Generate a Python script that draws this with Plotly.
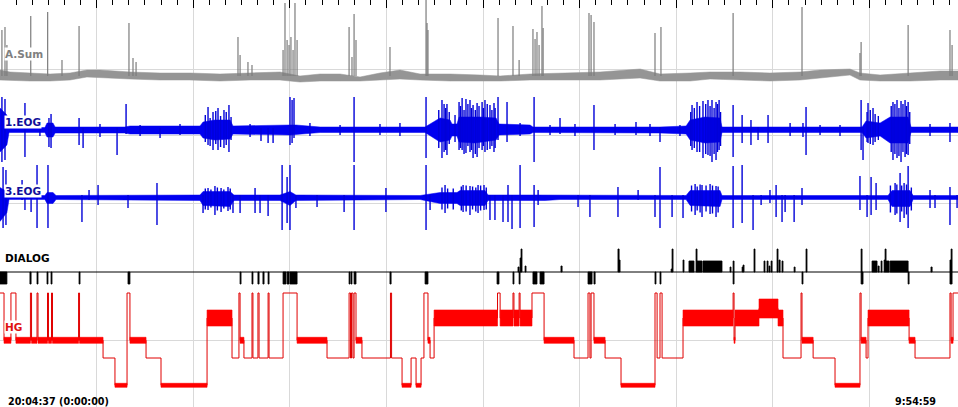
import plotly.graph_objects as go

# ---------------- data (time in minutes from 20:04:37) ----------------
TOTAL_MIN = 594.98  # 9:54:59

# A.Sum: background band envelope (upper / lower amplitude) and spikes
asum_t = [0.0, 6.2, 18.6, 31.1, 43.5, 54.0, 62.1, 80.7, 99.4, 118.0, 136.6, 155.3, 173.9, 186.3,
          198.8, 211.2, 223.6, 236.0, 248.4, 260.9, 279.5, 298.1, 310.6, 329.2, 347.8, 372.7, 397.5,
          409.9, 428.6, 441.0, 459.6, 478.2, 496.9, 509.3, 527.9, 534.1, 546.6, 565.2, 583.8, 595.0]
asum_hi = [6, 4, 3, 2, 3, 6, 6, 4, 3, 3, 2, 3, 4, 0, 2, 2, -1, 3, 6, 2,
           2, 1, 0, 2, 3, 4, 7, 2, 3, 4, 4, 3, 4, 6, 7, 3, 1, 3, 5, 5]
asum_lo = [-4, -4, -5, -5, -4, -1, -2, -3, -4, -4, -5, -4, -4, -6, -5, -5, -5, -4, -3, -4,
           -5, -5, -5, -4, -4, -4, -2, -5, -5, -3, -4, -5, -4, -2, 1, -4, -5, -5, -4, -4]
asum_spike_t = [1.2, 3.1, 4.3, 19.1, 29.6, 38.5, 49.1, 80.1, 82.6, 84.5,
                147.8, 149.1, 154.0, 156.5, 175.8, 177.0, 178.3, 179.5, 180.7, 182.0,
                183.2, 184.5, 216.8, 218.6, 219.9, 221.1, 242.2, 264.6, 265.2, 265.8,
                309.3, 318.6, 322.4, 331.0, 332.3, 333.5, 334.8, 336.6, 337.3, 365.8,
                367.1, 368.9, 406.8, 410.5, 455.3, 498.1, 534.1, 534.8, 564.0, 590.0, 591.3]
asum_spike_amp = [46, 49, 31, 60, 64, 16, 50, 53, 18, 14,
                  39, 21, 14, 11, 26, 73, 36, 31, 39, 26,
                  73, 36, 49, 19, 62, 36, 29, 76, 53, 46,
                  58, 50, 16, 47, 37, 44, 31, 70, 48, 63,
                  61, 54, 43, 49, 63, 69, 23, 34, 51, 46, 31]

# 1.EOG: envelope and spikes (time, up, down)
eog1_t = [0.0, 4.3, 5.6, 27.9, 29.2, 32.9, 34.2, 77.6, 80.7, 124.2,
          126.1, 133.5, 142.9, 144.7, 180.1, 183.8, 198.8, 264.0, 273.3, 279.5,
          280.7, 283.8, 285.1, 295.0, 298.1, 308.1, 309.9, 329.2, 331.0, 366.4,
          372.7, 409.9, 426.1, 428.6, 437.9, 447.2, 448.4, 535.4, 537.9, 546.6,
          552.8, 564.0, 565.8, 595.0]
eog1_hi = [22, 15, 2.5, 2.5, 7, 7, 3, 3, 4, 4,
           8, 10, 10, 4, 5, 5, 3, 3, 12, 10,
           6, 6, 13, 13, 13, 12, 6, 5, 3, 3,
           3, 3, 4, 10, 13, 12, 3, 3, 9, 7,
           13, 13, 3, 3]
eog1_lo = [-22, -15, -2.5, -2.5, -7, -7, -3, -3, -4, -4,
           -8, -10, -9, -4, -5, -4, -2.5, -2.5, -12, -10,
           -6, -6, -12, -13, -12, -10, -5, -4, -2.5, -2.5,
           -3, -3, -4, -10, -13, -12, -2.5, -2.5, -8, -6,
           -13, -13, -2.5, -2.5]
eog1_spikes = [
    (1.2, 33, -32), (3.1, 31, -30), (15.5, 27, -27), (24.8, 7, -6), (30.4, 12, -17), (31.7, 16, -18),
    (49.1, 12, -15), (51.6, 2, -18), (62.1, 6, -7), (72.7, 2, -25), (78.3, 26, -4), (87.0, 5, -6),
    (99.4, 2, -8), (111.8, 6, -5), (129.2, 23, -15), (132.3, 18, -20), (135.4, 22, -20), (139.1, 20, -18),
    (142.2, 25, -22), (155.3, 6, -7), (162.1, 2, -11), (166.5, 2, -13), (169.6, 2, -13), (180.1, 33, -15),
    (181.4, 30, -13), (182.6, 32, -8), (192.5, 7, -6), (211.2, 5, -5), (219.9, 33, -32), (236.0, 6, -5),
    (248.4, 7, -6), (264.6, 33, -28), (274.5, 30, -28), (275.8, 26, -22), (277.6, 26, -25), (282.6, 15, -12),
    (285.1, 28, -20), (287.0, 32, -20), (289.4, 31, -23), (291.9, 30, -22), (293.8, 25, -28), (296.3, 27, -27),
    (299.4, 28, -20), (301.2, 30, -22), (304.3, 25, -19), (306.8, 27, -22), (309.3, 33, -10), (314.9, 28, -12),
    (323.0, 7, -6), (331.7, 33, -32), (341.6, 5, -5), (347.8, 12, -4), (357.1, 6, -6), (368.9, 25, -20),
    (382.0, 6, -5), (395.0, 8, -5), (403.7, 6, -6), (409.9, 3, -12), (422.3, 5, -6), (429.8, 25, -20),
    (432.9, 28, -22), (436.6, 29, -28), (439.7, 30, -25), (442.2, 30, -32), (444.7, 28, -30), (446.6, 30, -20),
    (455.3, 25, -27), (460.9, 15, -13), (466.4, 10, -15), (470.8, 3, -10), (477.0, 15, -13), (490.7, 7, -6),
    (498.7, 7, -7), (500.6, 23, -25), (509.3, 5, -5), (521.7, 5, -6), (534.8, 30, -20), (536.0, 3, -30),
    (539.1, 27, -13), (542.2, 22, -15), (554.6, 28, -30), (557.1, 30, -28), (559.6, 29, -32), (562.1, 30, -27),
    (564.0, 28, -25), (577.6, 6, -6), (590.0, 7, -12),
    (127.5, 15, -12), (130.5, 12, -16), (134.0, 19, -14), (137.0, 14, -17), (140.5, 18, -15), (143.5, 13, -10),
    (272.5, 20, -18), (276.8, 22, -20), (279.0, 18, -14), (286.0, 24, -18), (288.2, 20, -24), (290.6, 26, -16),
    (292.8, 22, -20), (295.2, 20, -24), (297.5, 24, -18), (300.2, 22, -16), (302.6, 26, -20), (305.5, 20, -16),
    (307.5, 22, -18), (429.0, 18, -16), (431.2, 22, -18), (434.5, 24, -22), (438.3, 26, -24), (441.0, 24, -26),
    (443.5, 22, -24), (445.6, 26, -22), (447.5, 18, -16), (538.5, 18, -12), (540.5, 20, -14), (543.5, 16, -12),
    (545.5, 14, -10), (553.5, 24, -22), (555.8, 26, -24), (558.3, 22, -26), (560.8, 26, -22), (563.0, 24, -24),
    (565.0, 18, -14),
]

# 3.EOG: envelope and spikes (time, up, down)
eog3_t = [0.0, 4.3, 5.6, 27.9, 29.2, 32.9, 34.8, 124.2, 126.1, 142.9,
          145.3, 173.9, 180.1, 183.8, 260.9, 273.3, 283.8, 285.7, 301.2, 303.1,
          329.2, 338.5, 347.8, 426.1, 428.6, 447.2, 448.4, 551.5, 554.0, 565.2,
          567.1, 595.0]
eog3_hi = [10, 6, 2, 2, 5, 5, 2, 2.5, 6, 6,
           2.5, 2.5, 6, 2.5, 2, 5, 5, 7, 7, 2.5,
           2.5, 2.5, 2, 2, 7, 7, 2, 2, 7, 7,
           2, 2]
eog3_lo = [-24, -15, -2, -2, -6, -6, -2, -3, -8, -9,
           -3, -3, -8, -3, -2, -6, -6, -8, -8, -3,
           -3, -3, -2, -2, -8, -9, -2, -2, -9, -9,
           -2, -2]
eog3_spikes = [
    (1.9, 30.5, -30.5), (3.7, 27.5, -27.5), (13.7, 17.5, -2.5), (15.5, 2.5, -12.5), (19.3, 2.5, -14.5),
    (23.0, 32.5, -30.5), (29.8, 32.5, -30.5), (50.9, 2.5, -24.5), (55.3, 7.5, -2.5), (60.9, 12.5, -7.5),
    (79.5, 2.5, -10.5), (97.5, 14.5, -27.5), (126.1, 2.5, -15.5), (129.2, 9.5, -12.5), (133.5, 11.5, -17.5),
    (137.3, 9.5, -14.5), (141.6, 10.5, -13.5), (144.7, 2.5, -15.5), (149.1, 2.5, -15.5), (158.4, 9.5, -15.5),
    (161.5, 2.5, -15.5), (166.5, 2.5, -18.5), (175.2, 32.5, -32.5), (178.3, 20.5, -25.5), (180.1, 32.5, -32.5),
    (183.8, 2.5, -10.5), (196.9, 2.5, -9.5), (213.7, 2.5, -14.5), (219.9, 32.5, -32.5), (239.7, 9.5, -14.5),
    (264.6, 32.5, -32.5), (267.1, 2.5, -12.5), (276.4, 12.5, -15.5), (287.6, 12.5, -14.5), (291.9, 11.5, -17.5),
    (296.9, 12.5, -15.5), (300.6, 12.5, -12.5), (304.3, 2.5, -22.5), (307.4, 2.5, -22.5), (312.4, 2.5, -24.5),
    (315.5, 12.5, -24.5), (318.0, 2.5, -31.5), (323.0, 32.5, -30.5), (331.7, 12.5, -29.5), (334.2, 7.5, -7.5),
    (359.0, 2.5, -9.5), (366.4, 2.5, -19.5), (383.8, 10.5, -19.5), (396.3, 7.5, -2.5), (406.8, 2.5, -19.5),
    (409.9, 30.5, -30.5), (417.4, 2.5, -19.5), (424.2, 2.5, -20.5), (431.7, 13.5, -17.5), (436.0, 12.5, -19.5),
    (441.0, 13.5, -16.5), (444.7, 11.5, -19.5), (455.3, 31.5, -30.5), (460.9, 32.5, -25.5), (467.7, 2.5, -32.5),
    (472.7, 2.5, -7.5), (478.2, 7.5, -5.5), (482.0, 12.5, -19.5), (485.7, 2.5, -24.5), (487.6, 2.5, -14.5),
    (493.2, 2.5, -24.5), (498.1, 9.5, -7.5), (534.1, 21.5, -12.5), (538.5, 2.5, -19.5), (541.0, 20.5, -17.5),
    (544.1, 14.5, -12.5), (555.9, 14.5, -17.5), (559.0, 24.5, -24.5), (561.5, 14.5, -20.5), (564.0, 31.5, -30.5),
    (577.6, 7.5, -10.5), (580.7, 2.5, -10.5), (590.0, 10.5, -27.5), (594.4, 2.5, -10.5),
    (127.5, 9, -12), (131.0, 8, -10), (135.0, 10, -13), (139.0, 8, -11), (143.0, 9, -12),
    (274.5, 10, -12), (278.0, 9, -11), (281.5, 9, -12), (286.5, 11, -13), (289.5, 12, -14), (293.5, 11, -12),
    (295.5, 10, -14), (298.5, 12, -13), (302.0, 10, -12), (429.5, 12, -14), (433.0, 11, -13), (434.8, 13, -15),
    (438.5, 12, -14), (442.5, 12, -16), (446.0, 11, -15), (553.0, 12, -15), (557.0, 13, -16), (560.0, 12, -14),
    (563.0, 13, -17), (566.0, 10, -13),
]

# DIALOG: upward events (start, end, height) and downward markers (start, end)
dialog_up = [
    (321.7, 322.4, 5), (323.0, 323.6, 14), (323.6, 324.2, 23), (326.1, 326.7, 6), (348.4, 349.1, 6),
    (383.8, 384.5, 23), (384.5, 385.1, 12), (416.8, 417.4, 3), (417.4, 418.0, 23), (424.2, 424.8, 12),
    (427.9, 431.0, 11), (432.3, 432.9, 23), (432.9, 436.0, 11), (436.6, 448.4, 11), (453.4, 454.0, 5),
    (455.3, 455.9, 11), (460.9, 461.5, 5), (461.5, 462.1, 7), (468.3, 468.9, 23), (474.5, 475.1, 11),
    (476.4, 477.0, 11), (477.6, 478.2, 6), (478.9, 479.5, 11), (482.6, 483.2, 23), (483.8, 484.5, 12),
    (485.7, 486.3, 11), (493.2, 493.8, 5), (500.6, 501.2, 23), (534.8, 535.4, 23), (541.6, 544.7, 11),
    (545.3, 546.0, 6), (547.2, 547.8, 11), (549.1, 549.7, 12), (549.7, 550.3, 23), (550.3, 552.2, 11),
    (552.8, 564.0, 11), (578.2, 578.9, 5), (590.0, 590.7, 12), (590.7, 591.3, 23),
]
dialog_down = [
    (0.0, 4.3), (18.6, 19.3), (23.0, 23.6), (29.2, 29.8), (31.7, 32.3), (49.1, 49.7), (79.5, 80.7),
    (149.1, 149.7), (156.5, 157.1), (160.2, 160.9), (163.3, 164.0), (166.5, 167.1), (175.8, 177.6),
    (178.3, 179.5), (180.1, 184.5), (216.8, 217.4), (218.0, 218.6), (219.9, 221.1), (242.2, 242.9),
    (264.0, 265.8), (308.7, 309.9), (318.6, 319.2), (322.4, 323.0), (331.0, 333.5), (335.4, 337.9),
    (365.2, 367.7), (368.9, 369.6), (406.8, 407.4), (409.9, 410.5), (455.3, 455.9), (498.1, 498.7),
    (534.8, 536.0), (564.0, 564.6), (590.0, 591.3),
]

# HG (hypnogram): stage changes (start minute, stage)
hg_start = [0.0, 2.5, 6.8, 9.9, 18.9, 19.6, 23.0, 23.6, 29.5, 30.1, 32.0, 32.6, 48.8, 49.4, 64.0,
            71.4, 78.9, 80.7, 90.7, 100.0, 128.6, 144.1, 148.4, 149.1, 151.5, 156.5, 157.1, 160.2,
            160.9, 166.5, 167.1, 175.8, 184.5, 203.1, 216.8, 217.7, 218.3, 219.2, 219.9, 221.1, 224.8,
            242.5, 243.2, 249.7, 255.3, 258.4, 261.5, 263.3, 265.8, 267.1, 269.6, 309.0, 310.6, 318.6,
            319.2, 322.4, 323.0, 330.4, 337.9, 356.5, 365.2, 366.4, 367.1, 368.9, 375.8, 385.7, 406.8,
            408.1, 409.9, 411.2, 424.2, 455.3, 455.9, 456.5, 471.4, 483.2, 486.3, 497.5, 498.1, 505.0,
            518.6, 534.1, 534.8, 537.9, 539.1, 564.6, 568.3, 590.0, 590.7, 591.9]
hg_stage = ['W', 'N1', 'W', 'N1', 'W', 'N1', 'W', 'N1', 'W', 'N1', 'W', 'N1', 'W', 'N1', 'N2',
            'N3', 'W', 'N1', 'N2', 'N3', 'R', 'N2', 'W', 'N1', 'N2', 'W', 'N2', 'W',
            'N2', 'W', 'N2', 'W', 'N1', 'N2', 'W', 'N2', 'W', 'N2', 'W', 'N1', 'N2',
            'W', 'N2', 'N3', 'N2', 'N3', 'N2', 'W', 'N1', 'N2', 'R', 'W', 'R', 'W',
            'R', 'W', 'R', 'W', 'N1', 'N2', 'W', 'N2', 'W', 'N1', 'N2', 'N3', 'W',
            'N2', 'W', 'N2', 'R', 'W', 'N1', 'R', 'MT', 'R', 'N2', 'W', 'N1', 'N2',
            'N3', 'W', 'N1', 'N2', 'R', 'N1', 'N2', 'W', 'N1', 'W']

start_label = "20:04:37 (0:00:00)"
end_label = "9:54:59"

# ---------------- layout / style constants (screen rows) ----------------
H, W = 407, 958
ASUM_ZERO, EOG1_ZERO, EOG3_ZERO, DIALOG_ZERO = 76, 130, 197.5, 272
DIALOG_DOWN = 12
HG_LEVEL = {'W': 293, 'MT': 308.5, 'R': 318, 'N1': 340.3, 'N2': 358, 'N3': 385.3}
HG_HALF = {'MT': 9.5, 'R': 8, 'N1': 3, 'N3': 2}
GRID = '#d9d9d9'
GRAY, BLUE, RED = '#959595', '#0000f0', '#ff0000'


def band(t, hi, lo, zero):
    xs = list(t) + list(t)[::-1]
    ys = [zero - v for v in hi] + [zero - v for v in lo][::-1]
    return xs, ys


def spikes(sp, zero):
    xs, ys = [], []
    for t, a, b in sp:
        xs += [t, t, None]
        ys += [zero - a, zero - b, None]
    return xs, ys


def rects(items, y0, y1f):
    xs, ys = [], []
    for it in items:
        t0, t1 = it[0], it[1]
        y1 = y1f(it)
        xs += [t0, t0, t1, t1, t0, None]
        ys += [y0, y1, y1, y0, y0, None]
    return xs, ys


fig = go.Figure()

# A.Sum
bx, by = band(asum_t, asum_hi, asum_lo, ASUM_ZERO)
fig.add_trace(go.Scatter(x=bx, y=by, fill='toself', fillcolor=GRAY, mode='lines',
                         line=dict(color=GRAY, width=0.5)))
sx, sy = spikes([(t, a, 0) for t, a in zip(asum_spike_t, asum_spike_amp)], ASUM_ZERO)
fig.add_trace(go.Scatter(x=sx, y=sy, mode='lines', line=dict(color='#7c7c7c', width=1.2)))

# EOG channels
for t, hi, lo, sp, zero in [(eog1_t, eog1_hi, eog1_lo, eog1_spikes, EOG1_ZERO),
                            (eog3_t, eog3_hi, eog3_lo, eog3_spikes, EOG3_ZERO)]:
    bx, by = band(t, hi, lo, zero)
    fig.add_trace(go.Scatter(x=bx, y=by, fill='toself', fillcolor=BLUE, mode='lines',
                             line=dict(color=BLUE, width=0.5)))
    sx, sy = spikes(sp, zero)
    fig.add_trace(go.Scatter(x=sx, y=sy, mode='lines', line=dict(color='#0000d8', width=1.4)))

# DIALOG
fig.add_trace(go.Scatter(x=[0, TOTAL_MIN], y=[DIALOG_ZERO, DIALOG_ZERO], mode='lines',
                         line=dict(color='black', width=1)))
ux, uy = rects(dialog_up, DIALOG_ZERO, lambda it: DIALOG_ZERO - it[2])
fig.add_trace(go.Scatter(x=ux, y=uy, fill='toself', fillcolor='black', mode='lines',
                         line=dict(color='black', width=0.8)))
dx, dy = rects(dialog_down, DIALOG_ZERO, lambda it: DIALOG_ZERO + DIALOG_DOWN)
fig.add_trace(go.Scatter(x=dx, y=dy, fill='toself', fillcolor='black', mode='lines',
                         line=dict(color='black', width=0.8)))

# HG
hg_end = hg_start[1:] + [TOTAL_MIN]
step_x = hg_start + [TOTAL_MIN]
step_y = [HG_LEVEL[s] for s in hg_stage] + [HG_LEVEL[hg_stage[-1]]]
fig.add_trace(go.Scatter(x=step_x, y=step_y, mode='lines', line=dict(color='#e00000', width=1, shape='hv')))
bands = [(a, b, s) for a, b, s in zip(hg_start, hg_end, hg_stage) if s in HG_HALF]
hx, hy = [], []
for a, b, s in bands:
    top, bot = HG_LEVEL[s] - HG_HALF[s], HG_LEVEL[s] + HG_HALF[s]
    hx += [a, a, b, b, a, None]
    hy += [top, bot, bot, top, top, None]
fig.add_trace(go.Scatter(x=hx, y=hy, fill='toself', fillcolor=RED, mode='lines',
                         line=dict(color=RED, width=0.6)))

# channel labels
labels = [("A.Sum", 54, '#808080'), ("1.EOG", 122, '#10109a'), ("3.EOG", 190.5, '#10109a'),
          ("DIALOG", 257.5, 'black'), ("HG", 326.5, '#e01010')]
for txt, yy, col in labels:
    fig.add_annotation(x=4 / W, xref='paper', y=yy, yref='y', text=f"<b>{txt}</b>", showarrow=False,
                       xanchor='left', yanchor='middle', bgcolor='white', borderpad=0,
                       font=dict(family='DejaVu Sans', size=10.5, color=col))
fig.add_annotation(x=6 / W, xref='paper', y=401, yref='y', text=f"<b>{start_label}</b>", showarrow=False,
                   xanchor='left', yanchor='middle', font=dict(family='DejaVu Sans', size=9.6, color='black'))
fig.add_annotation(x=938 / W, xref='paper', y=401, yref='y', text=f"<b>{end_label}</b>", showarrow=False,
                   xanchor='right', yanchor='middle', font=dict(family='DejaVu Sans', size=9.6, color='black'))

fig.update_layout(
    width=W, height=H, margin=dict(l=0, r=0, t=0, b=0),
    paper_bgcolor='white', plot_bgcolor='white', showlegend=False, hovermode=False,
    xaxis=dict(range=[0, TOTAL_MIN], side='top', tickmode='linear', tick0=0, dtick=60,
               ticks='inside', ticklen=8, tickcolor='black', tickwidth=1, showticklabels=False,
               showgrid=True, gridcolor=GRID, gridwidth=1, zeroline=False, showline=False,
               minor=dict(tickmode='linear', tick0=0, dtick=10, ticks='inside', ticklen=5,
                          tickcolor='black', tickwidth=1, showgrid=False)),
    yaxis=dict(range=[H, 0], tickmode='array', tickvals=[69, 135, 203, 340], showticklabels=False,
               ticks='', showgrid=True, gridcolor=GRID, gridwidth=1, zeroline=False, showline=False),
)

fig.write_html("out.html", include_plotlyjs=True, config={"displayModeBar": False},
               post_script="document.body.style.margin='0px';document.body.style.overflow='hidden';")
